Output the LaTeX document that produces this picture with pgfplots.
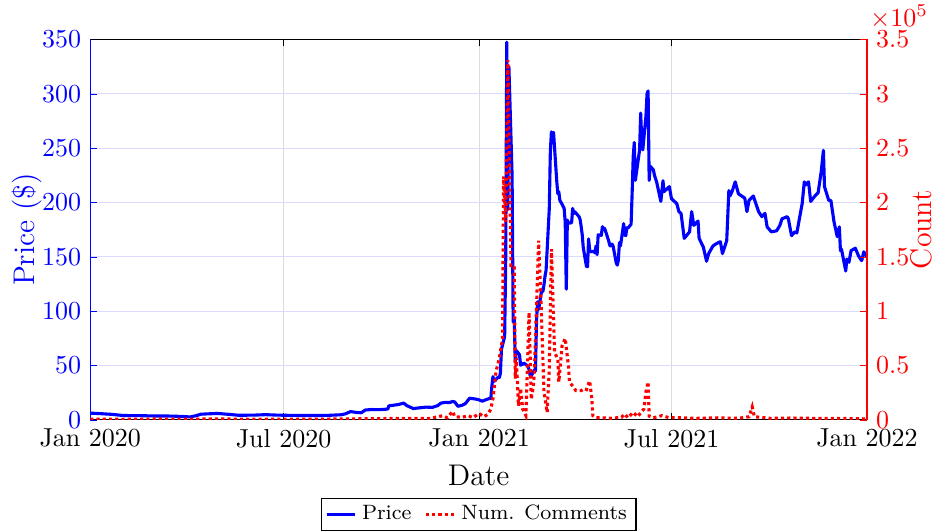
\documentclass[border=0pt]{standalone}
\usepackage{pgfplots}
\pgfplotsset{compat=1.18}
\definecolor{mblue}{rgb}{0,0,1}
\definecolor{mred}{rgb}{1,0,0}
\definecolor{gridblue}{rgb}{0.86,0.86,1}
\definecolor{gridgray}{rgb}{0.86,0.86,0.86}

\pgfplotstableread{
day price
0 6.3
10 5.8
20 5.2
31 4.1
45 4.0
60 3.7
75 3.6
85 3.3
94 2.8
100 4.0
104 5.3
110 5.6
120 6.0
130 5.2
140 4.3
155 4.5
165 4.9
175 4.5
185 4.3
200 4.1
215 4.1
225 4.3
236 4.8
240 5.6
245 7.7
250 7.0
255 6.6
259 9.2
265 9.6
272 9.5
280 10.0
281 13.0
285 13.5
290 14.2
295 15.5
298 13.2
304 10.5
310 11.2
316 11.8
322 11.6
327 13.2
330 15.5
334 16.2
338 16.0
341 17.0
343 16.6
346 12.6
350 13.5
353 15.0
357 20.0
361 19.5
365 18.8
369 17.3
371 18.1
376 19.9
377 20.0
378 31.4
379 39.9
380 35.5
384 39.4
385 39.1
386 43.0
387 65.0
390 76.8
391 148.0
392 347.5
393 193.6
394 325.0
397 225.0
398 90.0
399 92.4
400 53.5
401 63.8
404 60.0
405 50.3
406 51.2
407 51.1
408 52.4
412 49.5
413 45.9
414 40.7
415 40.6
418 46.0
419 45.0
420 91.7
421 108.7
422 101.7
425 120.4
426 118.2
427 124.2
428 132.4
429 137.7
432 194.5
433 246.9
434 265.0
435 260.0
436 264.5
439 220.1
440 208.2
441 209.8
442 201.8
443 200.3
446 194.5
447 181.8
448 120.3
449 183.8
450 181.0
453 181.3
454 194.5
455 189.8
456 191.5
460 187.0
461 184.5
462 178.0
463 170.3
464 158.4
467 141.1
468 141.0
469 166.5
470 156.4
471 154.7
474 155.1
475 153.6
476 160.1
477 152.0
478 170.3
481 169.8
482 177.8
483 175.2
484 176.2
485 173.6
488 164.4
489 160.4
490 159.9
491 161.8
492 160.2
495 144.6
496 142.4
497 147.0
498 163.0
499 160.0
502 180.6
503 170.0
504 169.6
505 176.8
506 176.4
509 180.0
510 209.4
511 242.6
512 255.2
513 220.4
517 248.4
518 282.2
519 258.2
520 248.4
523 280.0
524 300.0
525 302.6
526 220.4
527 233.3
530 230.0
531 225.0
533 219.0
537 201.0
539 220.0
540 210.0
545 214.6
547 203.5
552 199.0
554 191.6
556 190.0
559 167.0
564 173.0
566 191.6
568 179.0
572 183.0
573 167.0
577 159.0
580 146.0
582 153.0
586 160.0
589 162.0
593 164.0
595 153.0
599 165.0
601 211.0
602 206.0
604 210.0
607 219.0
610 208.0
613 206.0
616 204.0
618 191.6
620 202.0
624 206.0
629 191.6
632 187.0
635 190.0
637 177.6
641 173.0
646 174.0
649 179.0
651 185.0
656 187.0
657 185.0
660 169.5
663 173.0
665 172.0
667 183.0
670 199.0
672 219.0
673 216.0
676 219.0
678 201.0
682 206.0
685 209.0
688 229.0
690 248.0
691 214.6
695 202.0
697 202.0
700 182.0
701 177.6
703 168.6
705 177.6
706 155.7
707 157.0
711 137.0
712 148.0
714 145.0
716 155.7
720 158.0
723 151.0
726 146.5
728 154.7
731 150.0
}\pricetable

\pgfplotstableread{
day count
0 800
30 600
60 900
90 700
120 1000
150 600
180 800
210 700
240 1000
270 1200
290 1500
300 1500
320 1500
332 4000
336 2000
341 8000
343 3000
350 2500
356 4000
360 2000
366 6000
370 3000
374 5000
377 10000
379 20000
382 45000
385 57000
388 75000
389 224000
391 182000
393 331000
396 142000
399 142000
400 38000
401 57000
403 13000
405 29000
407 10000
410 4000
413 99000
415 19000
417 31000
418 44000
422 165000
424 115000
427 26000
430 7000
432 47000
434 157000
436 93000
437 62000
440 56000
441 35000
444 68000
447 75000
450 50000
451 35000
455 30000
457 27000
462 27000
465 29000
467 28000
470 36000
472 20000
473 4000
476 2000
481 2000
490 1500
500 2500
503 5500
506 2000
511 7000
515 3000
521 10000
523 26000
525 35000
526 3500
530 2000
538 4000
545 2000
556 2000
570 1500
590 2000
610 1500
620 3000
623 12000
625 3000
640 1500
660 1800
680 1500
700 1500
720 1200
731 1000
}\counttable

\begin{document}
\begin{tikzpicture}
\begin{axis}[
  name=left,
  scale only axis, width=299pt, height=146.5pt,
  xmin=0, xmax=731, ymin=0, ymax=350,
  axis x line*=box, axis y line*=left,
  xtick={0,182,366,547,731},
  xticklabels={Jan 2020,Jul 2020,Jan 2021,Jul 2021,Jan 2022},
  ytick={0,50,...,350},
  tick align=inside, major tick length=2.6pt,
  xmajorgrids, ymajorgrids,
  x grid style={gridgray, line width=0.4pt},
  y grid style={gridblue, line width=0.4pt},
  x axis line style={black, line width=0.4pt},
  y axis line style={mblue, line width=0.4pt},
  yticklabel style={mblue},
  ytick style={mblue},
  xtick style={black},
  ylabel={Price (\$)}, ylabel style={mblue, font=\fontsize{11.5}{13}\selectfont}, ylabel shift=-7pt,
  xlabel={Date}, xlabel style={font=\fontsize{11.5}{13}\selectfont},
]
\addplot[mblue, line width=1.2pt, line join=round] table[x=day, y=price] {\pricetable};
\end{axis}
\begin{axis}[
  scale only axis, width=299pt, height=146.5pt,
  xmin=0, xmax=731, ymin=0, ymax=350000,
  axis x line=none, axis y line*=right,
  ytick={0,50000,...,350000},
  scaled y ticks=base 10:-5,
  ytick scale label code/.code={$\times10^{5}$},
  every y tick scale label/.style={at={(rel axis cs:1,1)}, anchor=south west, inner sep=0pt, xshift=1pt, yshift=4pt, text=mred},
  tick align=inside, major tick length=2.6pt,
  y axis line style={mred, line width=0.4pt},
  yticklabel style={mred},
  ytick style={mred},
  ylabel={Count}, ylabel style={mred, font=\fontsize{11.5}{13}\selectfont, inner sep=1pt}, ylabel shift=-4pt,
  legend style={at={(axis description cs:0.5,-0.205)}, anchor=north, legend columns=2, font=\footnotesize, draw=black, line width=0.4pt, inner xsep=1.5pt, inner ysep=0.5pt, /tikz/every even column/.append style={column sep=3pt}},
  legend image code/.code={\draw[#1, line width=1.2pt] (0pt,0pt) -- (11pt,0pt);},
]
\addlegendimage{mblue, line width=1.2pt}
\addlegendentry{Price}
\addplot[mred, line width=1.2pt, dash pattern=on 1.2pt off 1.2pt] table[x=day, y=count] {\counttable};
\addlegendentry{Num. Comments}
\end{axis}
\path ([xshift=-1.5pt]current bounding box.west);
\path ([yshift=2pt]current bounding box.north);
\end{tikzpicture}
\end{document}
